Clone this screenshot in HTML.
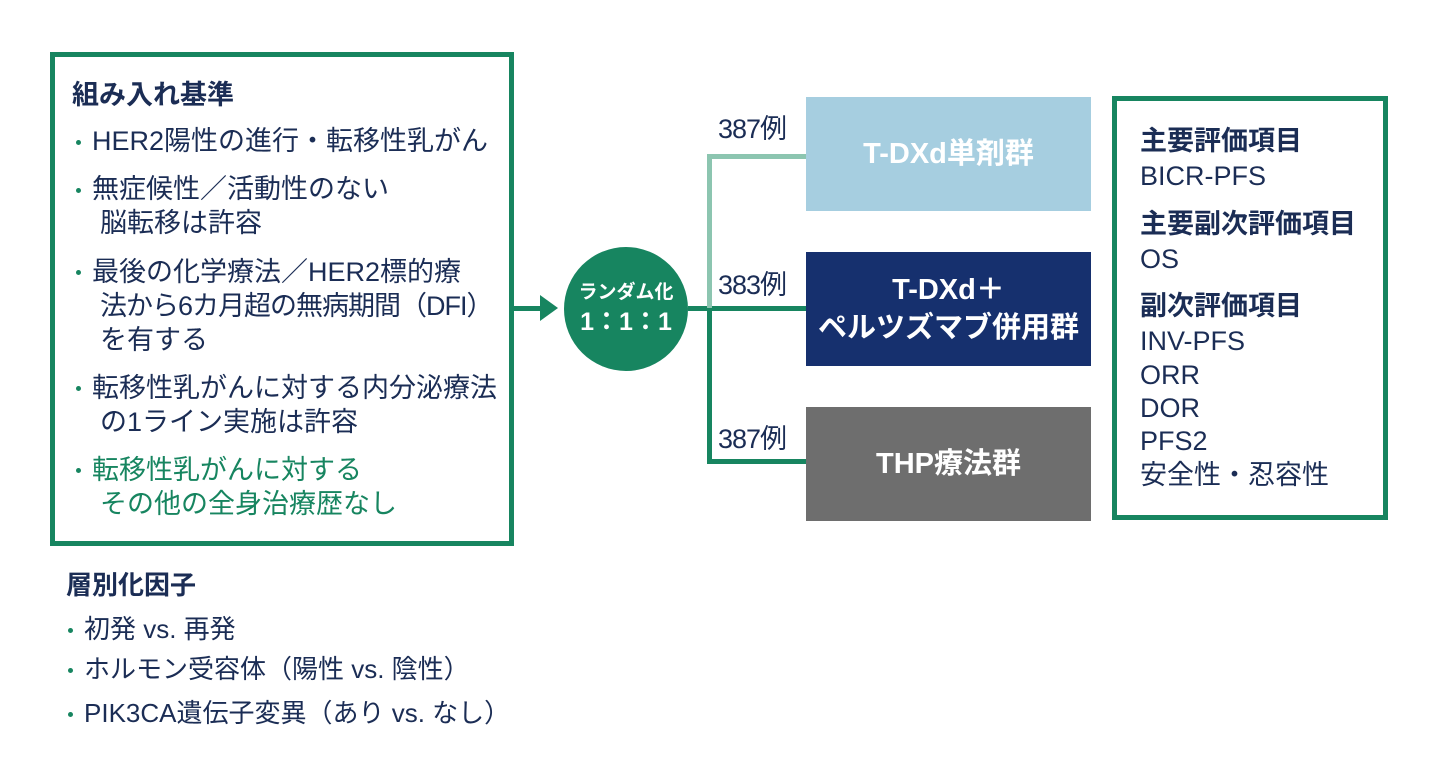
<!DOCTYPE html>
<html><head><meta charset="utf-8"><style>
body{margin:0;width:1440px;height:770px;background:#fff;position:relative;overflow:hidden;font-family:"Liberation Sans","Noto Sans CJK JP",sans-serif;color:#1b2d55}
.a{position:absolute;white-space:nowrap}
.t{font-size:27px;line-height:34px}
.b{font-weight:bold}
.dot{position:absolute;width:5px;height:5px;border-radius:50%;background:#178560}
.box{position:absolute;color:#fff;font-weight:bold;font-size:29px;display:flex;align-items:center;justify-content:center;text-align:center;line-height:38px}
.ln{position:absolute;background:#178560}
.s{font-size:26px;line-height:30px}
</style></head><body>
<div style="position:absolute;left:50px;top:52px;width:454px;height:484px;border:5px solid #178560"></div>
<div class="a t b" style="left:72px;top:78px">組み入れ基準</div>
<div class="dot" style="left:76px;top:140px"></div>
<div class="a t" style="left:92px;top:124px">HER2陽性の進行・転移性乳がん</div>
<div class="dot" style="left:76px;top:188px"></div>
<div class="a t" style="left:92px;top:172px">無症候性／活動性のない</div>
<div class="a t" style="left:100px;top:206px">脳転移は許容</div>
<div class="dot" style="left:76px;top:270px"></div>
<div class="a t" style="left:92px;top:255px">最後の化学療法／HER2標的療</div>
<div class="a t" style="left:100px;top:289px;letter-spacing:-1px">法から6カ月超の無病期間（DFI）</div>
<div class="a t" style="left:100px;top:323px">を有する</div>
<div class="dot" style="left:76px;top:386px"></div>
<div class="a t" style="left:92px;top:371px">転移性乳がんに対する内分泌療法</div>
<div class="a t" style="left:100px;top:405px">の1ライン実施は許容</div>
<div class="dot" style="left:76px;top:468px"></div>
<div class="a t" style="left:92px;top:453px;color:#178560">転移性乳がんに対する</div>
<div class="a t" style="left:100px;top:487px;color:#178560">その他の全身治療歴なし</div>

<div class="a b" style="left:66px;top:569px;font-size:26px;line-height:32px">層別化因子</div>
<div class="dot" style="left:68px;top:628px"></div>
<div class="a s" style="left:84px;top:614px">初発 vs. 再発</div>
<div class="dot" style="left:68px;top:668px"></div>
<div class="a s" style="left:84px;top:654px">ホルモン受容体（陽性 vs. 陰性）</div>
<div class="dot" style="left:68px;top:712px"></div>
<div class="a s" style="left:84px;top:698px">PIK3CA遺伝子変異（あり vs. なし）</div>

<div class="ln" style="left:514px;top:306px;width:30px;height:5px"></div>
<div style="position:absolute;left:540px;top:295px;width:0;height:0;border-top:13px solid transparent;border-bottom:13px solid transparent;border-left:18px solid #178560"></div>
<div style="position:absolute;left:564px;top:247px;width:124px;height:124px;border-radius:50%;background:#178560;color:#fff;text-align:center;font-weight:bold">
<div style="margin-top:34px;font-size:19px;line-height:24px">ランダム化</div>
<div style="font-size:25px;line-height:34px">1：1：1</div></div>
<div class="ln" style="left:688px;top:306px;width:118px;height:5px"></div>
<div class="ln" style="left:707px;top:154px;width:5px;height:154px;background:#8cc5b0"></div>
<div class="ln" style="left:707px;top:154px;width:99px;height:5px;background:#8cc5b0"></div>
<div class="ln" style="left:707px;top:308px;width:5px;height:156px"></div>
<div class="ln" style="left:707px;top:459px;width:99px;height:5px"></div>
<div class="a" style="left:718px;top:112px;font-size:27px;line-height:34px;letter-spacing:-1px">387例</div>
<div class="a" style="left:718px;top:268px;font-size:27px;line-height:34px;letter-spacing:-1px">383例</div>
<div class="a" style="left:718px;top:422px;font-size:27px;line-height:34px;letter-spacing:-1px">387例</div>

<div class="box" style="left:806px;top:97px;width:285px;height:114px;background:#a6cee0">T-DXd単剤群</div>
<div class="box" style="left:806px;top:252px;width:285px;height:114px;background:#16306e">T-DXd＋<br>ペルツズマブ併用群</div>
<div class="box" style="left:806px;top:407px;width:285px;height:114px;background:#6e6e6e">THP療法群</div>

<div style="position:absolute;left:1112px;top:96px;width:266px;height:414px;border:5px solid #178560"></div>
<div class="a t b" style="left:1140px;top:124px">主要評価項目</div>
<div class="a t" style="left:1140px;top:159px">BICR-PFS</div>
<div class="a t b" style="left:1140px;top:207px">主要副次評価項目</div>
<div class="a t" style="left:1140px;top:242px">OS</div>
<div class="a t b" style="left:1140px;top:289px">副次評価項目</div>
<div class="a t" style="left:1140px;top:324px">INV-PFS</div>
<div class="a t" style="left:1140px;top:358px">ORR</div>
<div class="a t" style="left:1140px;top:391px">DOR</div>
<div class="a t" style="left:1140px;top:424px">PFS2</div>
<div class="a t" style="left:1140px;top:458px">安全性・忍容性</div>
</body></html>
